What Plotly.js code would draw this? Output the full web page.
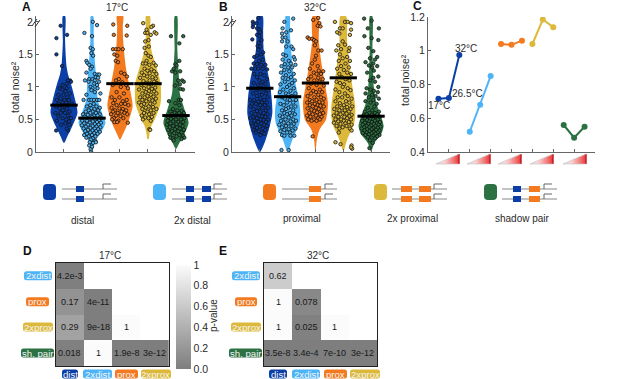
<!DOCTYPE html>
<html><head><meta charset="utf-8">
<script src="https://cdn.plot.ly/plotly-3.0.1.min.js"></script>
<style>html,body{margin:0;padding:0;background:#fff}</style></head>
<body><div id="g" style="width:617px;height:379px"></div>
<script>
const W=617,H=379;
const seriesNames=['distal','2x distal','proximal','2x proximal','shadow pair'];
const colors=['#0B3FA6','#4DB4F7','#F47A1F','#DDB93B','#2C7142'];
const means17=[0.72,0.52,1.05,1.05,0.56];
const means32=[0.98,0.85,1.06,1.14,0.55];
// violin outlines: [noise, half width]
const prof17dist=[[.14,0],[.24,.12],[.4,.3],[.6,.48],[.8,.4],[1.06,.24],[1.2,.14],[1.32,.09],[1.7,.04],[2.09,.04]];
const prof17x2dist=[[0,.02],[.09,.07],[.19,.15],[.3,.32],[.45,.48],[.6,.36],[.8,.21],[1.06,.17],[1.3,.12],[1.7,.06],[2.09,.04]];
const prof17prox=[[.19,0],[.29,.12],[.4,.24],[.7,.45],[.96,.36],[1.3,.21],[1.68,.12],[1.93,.1],[2.09,.11]];
const prof17x2prox=[[.2,.03],[.3,.06],[.4,.12],[.5,.24],[.75,.45],[1.06,.45],[1.3,.3],[1.57,.12],[1.83,.07],[2.09,.07]];
const prof17shadow=[[.05,0],[.14,.12],[.24,.26],[.45,.45],[.65,.31],[.9,.14],[1.2,.1],[1.57,.05],[2.09,.04]];
const prof32dist=[[0,0],[.19,.21],[.4,.36],[.6,.45],[.8,.43],[1.06,.36],[1.32,.24],[1.57,.14],[1.83,.12],[2.09,.1]];
const prof32x2dist=[[0,0],[.19,.17],[.45,.43],[.65,.45],[.9,.36],[1.2,.21],[1.5,.14],[1.83,.08],[2.09,.07]];
const prof32prox=[[0,.01],[.19,.05],[.34,.14],[.5,.38],[.75,.45],[1,.36],[1.3,.24],[1.7,.12],[2.09,.1]];
const prof32x2prox=[[.03,.03],[.19,.14],[.45,.4],[.7,.43],[1,.33],[1.3,.24],[1.68,.14],[2.09,.1]];
const prof32shadow=[[.01,0],[.14,.12],[.29,.38],[.4,.45],[.55,.36],[.75,.19],[1,.1],[1.57,.05],[2.09,.04]];
// points: [offset from violin centre, noise]
const pts17dist=[[-.12,1.94],[-.27,1.75],[.11,1.8],[-.27,1.5],[-.07,1.32],[.22,1.1],[.14,1.1],[.25,1.08],[.1,1.05],[-.05,1.03],[.1,.98],[-.15,.98],[-.05,.96],[.05,.93],[.2,.9],[-.2,.88],[-.02,.88],[.12,.84],[-.12,.82],[-.25,.8],[.02,.8],[.18,.8],[-.05,.76],[.08,.76],[-.2,.74],[.28,.74],[-.1,.72],[.16,.72],[-.28,.7],[.03,.7],[-.15,.67],[.1,.67],[-.05,.64],[.2,.62],[-.3,.6],[-.12,.6],[.04,.6],[.14,.56],[-.2,.55],[.25,.52],[-.05,.52],[.08,.5],[-.25,.48],[.18,.47],[-.1,.42],[.2,.42],[-.28,.33],[.15,.33],[.1,.36],[.05,.44]];
const pts17x2dist=[[.03,2],[.18,1.95],[-.27,1.83],[0,1.78],[-.05,1.6],[.03,1.58],[-.02,1.52],[.04,1.48],[-.2,1.4],[-.17,1.37],[-.1,1.34],[0,1.31],[-.05,1.28],[-.2,1.22],[.1,1.2],[.2,1.19],[.26,1.19],[.13,1.15],[.22,1.14],[-.1,1.12],[.02,1.12],[.1,1.1],[.25,1.08],[-.25,1.1],[-.12,1.08],[.08,1.05],[.18,1.03],[-.05,1],[.02,.98],[.2,.98],[-.02,.95],[.1,.92],[.3,.9],[-.2,.88],[-.1,.8],[-.02,.8],[.07,.8],[.18,.8],[.26,.8],[-.3,.8],[.06,.74],[-.06,.72],[-.18,.7],[.16,.7],[.28,.68],[-.02,.67],[.09,.66],[-.12,.64],[.22,.64],[-.22,.62],[.02,.62],[.14,.6],[-.06,.6],[.28,.58],[-.32,.58],[-.15,.57],[.07,.56],[.2,.56],[-.26,.54],[0,.54],[.33,.52],[-.1,.5],[.12,.5],[.25,.49],[-.35,.48],[-.18,.48],[.03,.47],[.18,.46],[.32,.45],[-.08,.45],[-.28,.44],[.1,.43],[-.14,.42],[.24,.42],[-.36,.41],[.02,.4],[.16,.39],[-.22,.39],[.3,.38],[-.06,.37],[.1,.36],[-.3,.36],[.22,.35],[-.14,.34],[.02,.33],[.15,.32],[-.24,.32],[.28,.31],[-.06,.3],[.08,.29],[-.18,.28],[.2,.28],[-.28,.26],[0,.26],[.12,.24],[-.12,.24],[-.2,.22],[.03,.21],[-.04,.19],[.12,.17],[-.08,.15],[.04,.14],[.14,.15],[-.1,.1],[0,.08],[-.05,.04],[-.03,0]];
const pts17prox=[[-.24,1.96],[.26,1.94],[-.22,1.8],[.24,1.79],[-.25,1.58],[-.15,1.58],[-.05,1.58],[.1,1.58],[-.2,1.5],[-.1,1.48],[-.15,1.4],[-.07,1.38],[.04,1.22],[.16,1.2],[.25,1.16],[-.14,1.1],[-.04,1.12],[.08,1.07],[.22,1.03],[-.26,1.03],[.03,1],[.28,.98],[-.12,.92],[.14,.9],[-.3,.84],[-.02,.84],[.24,.8],[-.18,.8],[.1,.78],[-.24,.75],[.04,.74],[.18,.74],[-.12,.72],[.3,.72],[-.3,.68],[-.02,.67],[.1,.66],[-.18,.64],[.22,.64],[-.25,.62],[.06,.62],[-.08,.6],[.16,.6],[-.32,.58],[.26,.58],[-.14,.56],[.02,.55],[-.22,.52],[.12,.52],[-.28,.5],[-.06,.48],[-.2,.46],[.28,.45],[-.1,.46]];
const pts17x2prox=[[-.17,1.98],[.18,1.94],[.12,1.92],[-.05,1.88],[-.1,1.83],[-.02,1.83],[.24,1.84],[.3,1.82],[.1,1.8],[.02,1.72],[-.1,1.7],[.03,1.62],[-.12,1.6],[-.08,1.52],[.02,1.48],[.1,1.46],[-.05,1.4],[.2,1.37],[-.18,1.36],[-.08,1.36],[.05,1.34],[.28,1.33],[-.12,1.28],[.12,1.27],[-.02,1.25],[.22,1.24],[-.22,1.22],[.06,1.21],[.3,1.2],[-.14,1.18],[-.03,1.16],[.16,1.15],[.28,1.13],[-.28,1.14],[.06,1.1],[-.16,1.09],[.22,1.08],[-.06,1.06],[.32,1.06],[.12,1.04],[-.24,1.03],[.02,1],[.26,.99],[-.14,.98],[.14,.97],[-.32,.96],[.04,.94],[.22,.93],[-.08,.92],[.3,.9],[-.2,.9],[.1,.88],[-.02,.86],[.2,.85],[-.28,.84],[-.12,.84],[.28,.82],[.05,.81],[-.2,.8],[.16,.79],[-.06,.78],[-.32,.76],[.24,.76],[.08,.74],[-.14,.74],[-.24,.72],[.02,.7],[.18,.69],[-.08,.68],[.3,.66],[-.2,.66],[.1,.64],[-.02,.62],[-.14,.6],[.2,.6],[.04,.58],[-.22,.56],[.14,.54],[-.1,.53],[.02,.52],[-.18,.5],[.1,.48],[.05,.35],[.08,.34]];
const pts17shadow=[[-.18,1.78],[.26,1.78],[.12,1.67],[-.02,1.35],[-.08,1.28],[.12,1.4],[.02,1.33],[-.14,1.24],[-.02,1.22],[.15,1.24],[.08,1.1],[.22,1.1],[.28,1.08],[.14,1.04],[-.04,1.02],[.16,.97],[.25,.96],[-.25,.78],[.1,.8],[.18,.8],[-.02,.75],[.12,.72],[-.1,.66],[.05,.64],[.2,.63],[-.2,.62],[-.05,.6],[.12,.6],[.28,.6],[-.14,.58],[.02,.57],[.2,.57],[-.28,.54],[-.08,.54],[.1,.53],[.3,.52],[-.18,.51],[0,.5],[.18,.5],[-.3,.48],[-.1,.47],[.08,.46],[.26,.46],[-.2,.44],[.02,.43],[.15,.42],[-.32,.42],[-.1,.4],[.24,.4],[.04,.38],[-.22,.38],[.14,.36],[-.04,.35],[.28,.34],[-.28,.34],[.08,.32],[-.14,.32],[.2,.3],[-.06,.29],[-.22,.27],[.12,.26],[.26,.25],[.02,.24],[.3,.22],[-.2,.22],[-.1,.21],[.2,.2],[-.08,.18]];
const pts32dist=[[-.25,2],[-.05,2.06],[-.24,1.96],[-.12,1.98],[-.25,1.92],[-.1,1.9],[-.02,1.88],[.02,1.84],[-.1,1.8],[-.02,1.78],[-.27,1.73],[.06,1.72],[-.04,1.68],[-.08,1.63],[.02,1.62],[-.05,1.57],[.12,1.53],[.04,1.5],[-.1,1.48],[-.2,1.46],[.1,1.42],[-.02,1.4],[-.22,1.36],[-.1,1.35],[.05,1.34],[.2,1.34],[-.3,1.28],[-.16,1.28],[-.06,1.28],[.1,1.28],[.26,1.27],[-.2,1.2],[.02,1.2],[.16,1.18],[-.1,1.15],[.26,1.12],[-.02,1.1],[.1,1.08],[-.22,1.06],[.2,1.05],[-.06,1.03],[.04,1.02],[-.3,.98],[.14,.96],[-.14,.96],[.3,.95],[-.02,.92],[.22,.9],[-.24,.9],[.08,.88],[-.1,.86],[.28,.84],[.02,.82],[-.34,.8],[-.2,.8],[.16,.8],[-.06,.77],[.08,.76],[.26,.76],[-.28,.74],[-.14,.74],[.02,.72],[.18,.72],[-.34,.7],[-.04,.68],[.1,.68],[.3,.68],[-.22,.66],[.22,.64],[-.1,.63],[.02,.62],[.14,.6],[-.3,.6],[-.16,.58],[.28,.58],[-.02,.56],[.08,.55],[-.24,.54],[.2,.54],[-.34,.52],[-.1,.52],[.03,.5],[.3,.5],[.14,.49],[-.2,.48],[-.06,.46],[.22,.46],[-.3,.44],[.06,.44],[-.14,.42],[.16,.42],[-.26,.4],[.26,.4],[0,.39],[-.1,.37],[.12,.36],[-.22,.34],[.2,.34],[-.04,.32],[.08,.3],[-.14,.3],[.02,.26],[.16,.28]];
const pts32x2dist=[[.2,2.05],[-.12,2],[-.18,1.9],[-.05,1.84],[.12,1.87],[-.2,1.82],[-.18,1.76],[-.08,1.76],[0,1.7],[-.2,1.7],[-.05,1.62],[.14,1.62],[.2,1.58],[-.16,1.5],[-.06,1.48],[.22,1.46],[.26,1.42],[-.18,1.42],[.04,1.4],[-.1,1.35],[.12,1.36],[.28,1.34],[-.22,1.32],[.02,1.3],[.16,1.3],[-.12,1.26],[.06,1.24],[-.24,1.22],[.22,1.2],[-.06,1.18],[.12,1.15],[-.18,1.14],[.02,1.12],[.26,1.1],[-.1,1.08],[.16,1.06],[-.26,1.04],[.06,1.03],[-.02,1],[.22,.98],[-.16,.96],[.1,.94],[-.28,.92],[.28,.9],[-.06,.9],[.03,.88],[.16,.86],[-.2,.84],[-.1,.82],[.3,.8],[.08,.8],[-.02,.76],[.2,.76],[-.26,.74],[-.14,.72],[.12,.7],[.28,.7],[.02,.68],[-.06,.66],[-.2,.64],[.2,.64],[-.12,.6],[.08,.6],[-.02,.58],[.26,.58],[-.28,.56],[.14,.56],[-.18,.54],[.04,.53],[-.08,.5],[.2,.5],[-.24,.48],[.3,.48],[.1,.47],[-.14,.45],[.02,.44],[.22,.43],[-.3,.42],[-.06,.4],[.14,.4],[-.2,.38],[.28,.36],[.04,.35],[-.12,.34],[.18,.33],[-.26,.32],[.08,.3],[-.02,.3],[-.2,.26],[-.12,.25],[.1,.25],[.24,.25],[-.22,.03],[.04,.03]];
const pts32prox=[[-.08,2.03],[.1,2.06],[.14,1.98],[.08,1.94],[.18,1.93],[-.28,1.76],[-.22,1.74],[-.12,1.74],[-.05,1.72],[.02,1.7],[-.02,1.64],[.1,1.56],[.22,1.56],[.02,1.48],[-.02,1.42],[-.12,1.36],[.08,1.32],[-.2,1.28],[.12,1.25],[.28,1.24],[-.06,1.22],[.04,1.2],[.2,1.2],[-.16,1.16],[.1,1.14],[-.26,1.12],[.26,1.12],[-.04,1.1],[.14,1.08],[-.16,1.05],[.04,1.03],[.3,1.02],[-.24,.98],[.16,.96],[-.08,.94],[.02,.92],[.24,.92],[-.16,.9],[.1,.88],[-.28,.86],[-.04,.84],[.2,.84],[.3,.82],[-.2,.8],[.04,.8],[-.12,.78],[.14,.77],[-.3,.76],[.26,.76],[-.02,.74],[.08,.72],[-.2,.72],[.18,.71],[-.1,.7],[.3,.7],[.02,.68],[-.28,.67],[.12,.66],[-.14,.65],[.22,.64],[-.04,.63],[.06,.61],[-.22,.6],[.28,.6],[.16,.58],[-.1,.58],[-.3,.56],[.02,.56],[-.18,.54],[.22,.54],[.1,.52],[-.06,.5],[-.26,.5],[.16,.5],[-.14,.48],[.04,.48],[-.1,.24]];
const pts32x2prox=[[-.3,2],[.06,2],[.16,2],[.28,1.98],[-.12,1.9],[-.02,1.9],[.28,1.88],[-.14,1.82],[-.22,1.84],[.24,1.8],[-.02,1.7],[.06,1.65],[-.18,1.64],[.22,1.6],[-.25,1.56],[-.08,1.58],[.2,1.55],[-.12,1.5],[.14,1.46],[-.02,1.44],[-.16,1.4],[.24,1.4],[.08,1.36],[-.08,1.32],[.2,1.3],[-.22,1.28],[.02,1.26],[.14,1.22],[-.14,1.2],[.28,1.2],[-.05,1.15],[.08,1.12],[.22,1.1],[-.24,1.08],[-.12,1.06],[.03,1.04],[-.02,1],[.16,.98],[-.28,.96],[.26,.95],[-.14,.92],[.06,.9],[.16,.86],[-.2,.84],[-.04,.84],[.3,.82],[.1,.78],[-.28,.78],[.22,.76],[-.12,.75],[.02,.72],[.32,.7],[-.22,.7],[.14,.69],[-.06,.68],[.26,.66],[-.32,.66],[-.14,.64],[.06,.64],[.2,.62],[-.24,.6],[-.02,.6],[.12,.59],[-.1,.58],[.3,.57],[-.34,.56],[.22,.55],[-.18,.54],[.04,.54],[.14,.52],[-.28,.5],[-.08,.5],[.28,.5],[.02,.48],[-.18,.47],[.2,.46],[-.34,.45],[.08,.44],[-.1,.43],[.3,.42],[-.24,.4],[.12,.4],[-.02,.38],[-.14,.36],[.24,.36],[.3,.33],[-.16,.3],[-.28,.15],[-.1,.12],[.3,.1],[.32,.05],[.28,.07]];
const pts32shadow=[[-.25,2.05],[.02,2.02],[-.12,1.9],[.28,1.9],[-.24,1.78],[.02,1.75],[.26,1.72],[-.1,1.6],[.08,1.55],[.22,1.46],[-.04,1.44],[.14,1.42],[-.2,1.38],[.08,1.36],[-.08,1.33],[.04,1.3],[.22,1.32],[.1,1.25],[-.14,1.22],[.26,1.16],[.08,1.14],[-.04,1.1],[.14,1.08],[.26,1],[-.16,.98],[-.02,.96],[.1,.94],[.24,.92],[-.2,.9],[.04,.88],[.16,.86],[-.08,.84],[.28,.82],[.08,.8],[-.2,.78],[-.02,.76],[.2,.74],[.12,.7],[-.12,.68],[.04,.64],[-.22,.62],[.28,.62],[-.06,.6],[.14,.6],[.22,.58],[-.16,.58],[.02,.57],[-.28,.56],[.1,.55],[-.08,.54],[.3,.54],[.18,.53],[-.22,.52],[-.02,.51],[.08,.5],[.24,.5],[-.14,.49],[-.32,.48],[.14,.48],[-.06,.47],[.32,.46],[.03,.46],[-.22,.45],[.2,.44],[-.1,.43],[.1,.43],[-.3,.42],[.27,.42],[0,.41],[-.16,.4],[.16,.4],[.34,.39],[-.06,.38],[-.25,.38],[.08,.37],[.24,.37],[-.34,.36],[-.14,.35],[.02,.35],[.18,.34],[.3,.33],[-.24,.33],[-.05,.32],[.1,.31],[-.16,.3],[.24,.3],[-.3,.29],[.02,.29],[.16,.28],[-.08,.27],[-.2,.26],[.3,.26],[.08,.25],[.22,.24],[-.12,.23],[.02,.22],[.14,.21],[-.04,.18],[.06,.14],[-.06,.06]];
const prof17=[prof17dist,prof17x2dist,prof17prox,prof17x2prox,prof17shadow];
const prof32=[prof32dist,prof32x2dist,prof32prox,prof32x2prox,prof32shadow];
const pts17=[pts17dist,pts17x2dist,pts17prox,pts17x2prox,pts17shadow];
const pts32=[pts32dist,pts32x2dist,pts32prox,pts32x2prox,pts32shadow];
// panel C
const tempMeans=[[.715,.72,.975],[.52,.68,.85],[1.04,1.035,1.06],[1.04,1.185,1.14],[.56,.485,.55]];
// heatmaps
const xCats=['dist','2xdist','prox','2xprox'];
const yCats=['2xdist','prox','2xprox','sh. pair'];
const z17=[[.0042,null,null,null],[.17,4e-11,null,null],[.29,9e-18,1,null],[.018,1,1.9e-8,3e-12]];
const t17=[['4.2e-3','','',''],['0.17','4e-11','',''],['0.29','9e-18','1',''],['0.018','1','1.9e-8','3e-12']];
const z32=[[.62,null,null,null],[1,.078,null,null],[1,.025,1,null],[3.5e-8,3.4e-4,7e-10,3e-12]];
const t32=[['0.62','','',''],['1','0.078','',''],['1','0.025','1',''],['3.5e-8','3.4e-4','7e-10','3e-12']];

const FONT='"Liberation Sans",Arial,sans-serif',TXT='#2a2a2a',AX='#666';
const fx=p=>p/W, fy=p=>1-p/H;
const shapes=[],annos=[];
function txt(x,y,text,o={}){annos.push(Object.assign({xref:'paper',yref:'paper',x:fx(x),y:fy(y),text,showarrow:false,xanchor:'center',yanchor:'middle',font:{family:FONT,size:10,color:TXT}},o));}
function rr(x0,y0,x1,y1,r,fill){const X=fx,Y=fy;shapes.push({type:'path',xref:'paper',yref:'paper',layer:'above',fillcolor:fill,line:{width:0},
 path:`M${X(x0+r)},${Y(y0)} L${X(x1-r)},${Y(y0)} Q${X(x1)},${Y(y0)} ${X(x1)},${Y(y0+r)} L${X(x1)},${Y(y1-r)} Q${X(x1)},${Y(y1)} ${X(x1-r)},${Y(y1)} L${X(x0+r)},${Y(y1)} Q${X(x0)},${Y(y1)} ${X(x0)},${Y(y1-r)} L${X(x0)},${Y(y0+r)} Q${X(x0)},${Y(y0)} ${X(x0+r)},${Y(y0)} Z`});}
function ln(x0,y0,x1,y1,c,w){shapes.push({type:'line',xref:'paper',yref:'paper',layer:'above',x0:fx(x0),y0:fy(y0),x1:fx(x1),y1:fy(y1),line:{color:c,width:w}});}
function box(x0,y0,x1,y1,c){shapes.push({type:'rect',xref:'paper',yref:'paper',layer:'above',x0:fx(x0),y0:fy(y0),x1:fx(x1),y1:fy(y1),fillcolor:c,line:{width:0}});}

const traces=[];
function violinPanel(prof,pts,means,xa,ya){
 prof.forEach((p,i)=>{const c=i+1;
  const xs=p.map(d=>c-d[1]).concat(p.slice().reverse().map(d=>c+d[1]));
  const ys=p.map(d=>d[0]).concat(p.slice().reverse().map(d=>d[0]));
  traces.push({type:'scatter',mode:'lines',x:xs,y:ys,xaxis:xa,yaxis:ya,fill:'toself',fillcolor:colors[i],line:{width:0,shape:'spline',smoothing:.7,color:colors[i]},hoverinfo:'skip',showlegend:false,name:seriesNames[i]});
 });
 pts.forEach((p,i)=>{const c=i+1;
  traces.push({type:'scatter',mode:'markers',x:p.map(d=>c+d[0]),y:p.map(d=>d[1]),xaxis:xa,yaxis:ya,showlegend:false,name:seriesNames[i],
   marker:{size:3.4,color:colors[i],line:{color:'#111',width:.8}}});
 });
 means.forEach((m,i)=>{const c=i+1;
  traces.push({type:'scatter',mode:'lines',x:[c-.49,c+.49],y:[m,m],xaxis:xa,yaxis:ya,showlegend:false,line:{color:'#000',width:3}});
 });
}
violinPanel(prof17,pts17,means17,'x','y');
violinPanel(prof32,pts32,means32,'x2','y2');
tempMeans.forEach((v,i)=>{
 traces.push({type:'scatter',mode:'lines+markers',x:[3*i+1,3*i+2,3*i+3],y:v,xaxis:'x3',yaxis:'y3',showlegend:false,name:seriesNames[i],line:{color:colors[i],width:2},marker:{size:6,color:colors[i]}});
});
const cs=[[0,'#7e7e7e'],[1,'#fbfbfb']];
function heat(z,t,xa,ya,scale){
 const o={type:'heatmap',z,xaxis:xa,yaxis:ya,zmin:0,zmax:1,colorscale:cs,hoverongaps:false,showscale:scale,xgap:0,ygap:0};
 if(scale)o.colorbar={x:fx(176),xanchor:'left',y:fy(317),yanchor:'middle',lenmode:'pixels',len:104,thicknessmode:'pixels',thickness:15,xpad:0,ypad:0,outlinewidth:0,ticks:'',tickvals:[0,.2,.4,.6,.8,1],ticktext:['0.0','0.2','0.4','0.6','0.8','1'],tickfont:{family:FONT,size:10.5,color:TXT}};
 traces.push(o);
 t.forEach((row,r)=>row.forEach((s,c)=>{if(s)annos.push({xref:xa,yref:ya,x:c,y:r,text:s,showarrow:false,xanchor:'center',yanchor:'middle',font:{family:FONT,size:9,color:'#1a1a1a'}});}));
}
heat(z17,t17,'x4','y4',true);
heat(z32,t32,'x5','y5',false);

function vAxes(l,r,t,b){return [[fx(l),fx(r)],[fy(b),fy(t)]];}
const base={showgrid:false,zeroline:false,showline:true,linecolor:AX,linewidth:1,ticks:'inside',ticklen:3,tickcolor:AX,tickwidth:1,tickfont:{family:FONT,size:10.5,color:TXT},fixedrange:true};
const vx=d=>Object.assign({},base,{domain:d,range:[0,5.68],tickvals:[1,2,3,4,5],showticklabels:false});
const vy=(d,a)=>Object.assign({},base,{domain:d,anchor:a,range:[0,2.09],tickvals:[0,.5,1,1.5,2],ticktext:['0','0.5','1','1.5','2']});
const [ax,ay]=vAxes(36,195,16,152),[bx,by]=vAxes(232,390,16,152),[cx,cy]=vAxes(428,595,17,152);
const [dx,dy]=vAxes(55.7,169,263,366),[ex,ey]=vAxes(264,377,263,366);
const hx=d=>({domain:d,range:[-.5,3.5],showgrid:false,zeroline:false,showticklabels:false,ticks:'',showline:true,mirror:true,linecolor:'#222',linewidth:1,fixedrange:true});
const hy=(d,a)=>({domain:d,anchor:a,range:[3.5,-.5],showgrid:false,zeroline:false,showticklabels:false,ticks:'',showline:true,mirror:true,linecolor:'#222',linewidth:1,fixedrange:true});
const layout={width:W,height:H,margin:{l:0,r:0,t:0,b:0},paper_bgcolor:'#fff',plot_bgcolor:'rgba(0,0,0,0)',showlegend:false,font:{family:FONT,color:TXT},
 xaxis:Object.assign(vx(ax),{anchor:'y'}),yaxis:vy(ay,'x'),
 xaxis2:Object.assign(vx(bx),{anchor:'y2'}),yaxis2:vy(by,'x2'),
 xaxis3:Object.assign({},base,{domain:cx,anchor:'y3',range:[0,16],tickvals:[2,4,6,8,10,12,14,16],showticklabels:false}),
 yaxis3:Object.assign({},base,{domain:cy,anchor:'x3',range:[.4,1.2],tickvals:[.4,.6,.8,1,1.2],ticktext:['0.4','0.6','0.8','1','1.2']}),
 xaxis4:Object.assign(hx(dx),{anchor:'y4'}),yaxis4:hy(dy,'x4'),
 xaxis5:Object.assign(hx(ex),{anchor:'y5'}),yaxis5:hy(ey,'x5'),
 shapes,annotations:annos};

// titles and panel letters
txt(117,7,'17°C');txt(315,7,'32°C');txt(110,255,'17°C');txt(318,255,'32°C');
[['A',26,7],['B',223,7],['C',417,6.5],['D',27,251],['E',223,251]].forEach(a=>txt(a[1],a[2],'<b>'+a[0]+'</b>',{font:{family:FONT,size:12,color:'#111'},borderpad:0}));
// axis titles
[[15,87],[210,87],[405,80]].forEach(p=>txt(p[0],p[1],'total noise²',{textangle:-90,font:{family:FONT,size:10.5,color:TXT}}));
txt(213,316,'p-value',{textangle:-90});
// panel C temperature labels
txt(466,48,'32°C');txt(467,93,'26.5°C');txt(439,105,'17°C');
// axis breaks
[36,232].forEach(x=>{ln(x-4,26,x+1,19,'#333',1);ln(x-1,27,x+4,20,'#333',1);});
// temperature wedges
[436,467,498,530,563].forEach(x0=>{
 const w=23,h=10,n=12;
 for(let i=0;i<n;i++){const a=i/n,b=(i+1)/n;
  const k=(a+b)/2;
  const col=k<.35?`rgb(${228+Math.round(k/.35*25)},${225-Math.round(k/.35*10)},${225-Math.round(k/.35*10)})`:`rgb(${253-Math.round((k-.35)/.65*18)},${215-Math.round((k-.35)/.65*165)},${215-Math.round((k-.35)/.65*165)})`;
  shapes.push({type:'path',xref:'paper',yref:'paper',layer:'above',fillcolor:col,line:{width:0},
   path:`M${fx(x0+a*w)},${fy(164)} L${fx(x0+b*w+.3)},${fy(164)} L${fx(x0+b*w+.3)},${fy(164-b*h)} L${fx(x0+a*w)},${fy(164-a*h)} Z`});
 }
 ln(x0+w,154,x0+w,164,'#b3121e',1.2);
 ln(x0,164,x0+w,164,'#c9c2c2',.7);
 ln(x0,164,x0+w,154,'#c9c2c2',.7);
});
// construct cartoons
const BLUE='#0B3FA6',OR='#F47A1F';
function cartoon(sw,c,l0,l1,blocks,prom,yo){
 rr(sw,184+yo,sw+13,200+yo,4,c);
 [189,199].forEach(y=>{
  ln(l0,y+yo,l1,y+yo,'#888',1.2);
  ln(prom,y+yo,prom,y-5+yo,'#555',.9);ln(prom,y-5+yo,prom+8,y-5+yo,'#555',.9);
  blocks.forEach(b=>box(b[0],y-3+yo,b[1],y+3+yo,b[2]));
 });
}
cartoon(43,colors[0],62,117,[[76,84,BLUE]],103,0);
cartoon(153,colors[1],172,227,[[186,194,BLUE],[202,211,BLUE]],214,0);
cartoon(263,colors[2],282,337,[[309,321,OR]],325,0);
cartoon(374,colors[3],392,447,[[401,412,OR],[419,431,OR]],434,0);
cartoon(484,colors[4],502,557,[[513,521,BLUE],[529,540,OR]],544,0);
txt(82,220,'distal');txt(192,220,'2x distal');txt(302,218,'proximal');txt(412,218,'2x proximal');txt(522,218,'shadow pair');
// heatmap labels
const pillCol={'dist':colors[0],'2xdist':colors[1],'prox':colors[2],'2xprox':colors[3],'sh. pair':colors[4]};
function pill(x0,x1,yc,label){rr(x0,yc-4.5,x1,yc+4.5,2.5,pillCol[label]);txt((x0+x1)/2,yc,label,{font:{family:FONT,size:9.6,color:'#f4f4f4'}});}
[[24,52],[26,49],[23,53],[21,54]].forEach((p,i)=>pill(p[0],p[1],[275.7,301.7,327,353][i],yCats[i]));
[[62,78],[83,112],[115,138],[141,171]].forEach((p,i)=>pill(p[0],p[1],374,xCats[i]));
[[232,260],[235,257],[231,261],[229,262]].forEach((p,i)=>pill(p[0],p[1],[275.7,301.7,327,353][i],yCats[i]));
[[269,287],[292,320],[324,347],[350,380]].forEach((p,i)=>pill(p[0],p[1],374,xCats[i]));

Plotly.newPlot('g',traces,layout,{displayModeBar:false,staticPlot:true});
</script></body></html>
